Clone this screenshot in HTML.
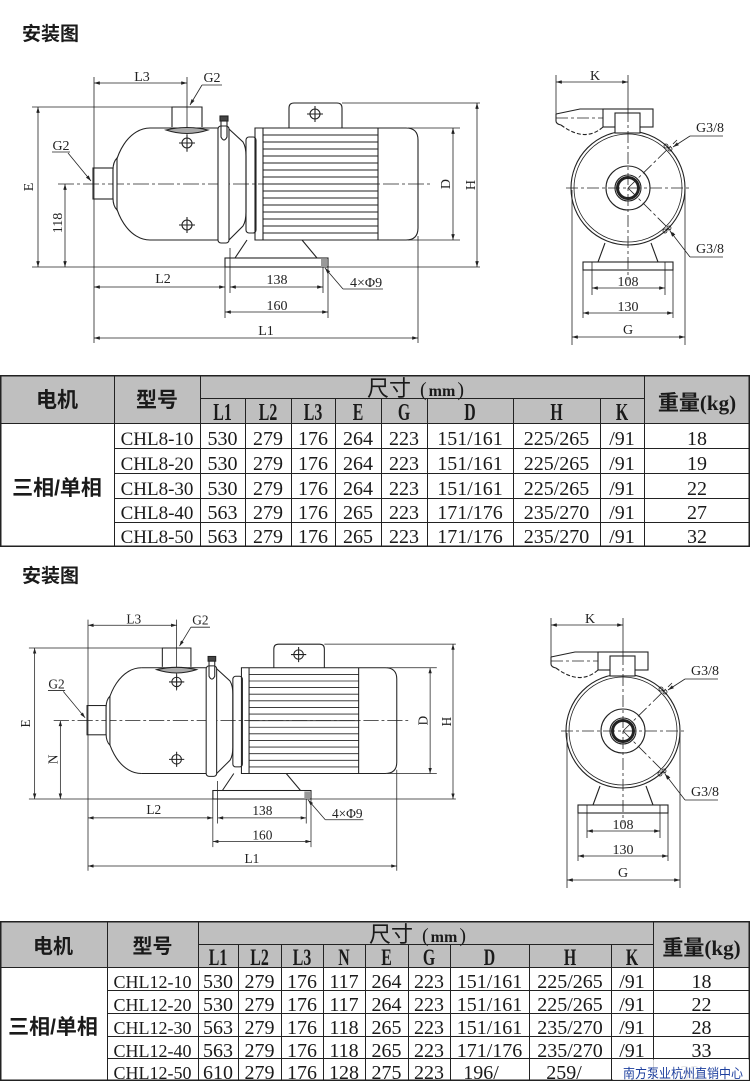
<!DOCTYPE html>
<html><head><meta charset="utf-8">
<style>
html,body{margin:0;padding:0;background:#fff;}
svg{display:block}
.d{font-family:"Liberation Serif",serif;font-size:14px;fill:#222;stroke:none}
.m{text-anchor:middle}
.t{font-family:"Liberation Serif",serif;font-size:20px;fill:#1a1a1a;text-anchor:middle}
.mo{font-family:"Liberation Serif",serif;font-size:19px;fill:#1a1a1a;text-anchor:middle}
.h{font-family:"Liberation Serif",serif;font-size:22px;font-weight:bold;fill:#1a1a1a;text-anchor:middle}
.c{font-family:"Liberation Sans","Noto Sans CJK SC",sans-serif;font-weight:bold;font-size:21px;fill:#1a1a1a;text-anchor:middle}
.r{font-family:"Liberation Sans","Noto Sans CJK SC",sans-serif;font-size:22px;fill:#1a1a1a}
.ti{font-family:"Liberation Sans","Noto Sans CJK SC",sans-serif;font-weight:bold;font-size:19px;fill:#1a1a1a}
</style></head><body>
<svg width="750" height="1082" viewBox="0 0 750 1082" xmlns="http://www.w3.org/2000/svg">
<defs>
<marker id="a" viewBox="0 0 10 6" refX="10" refY="3" markerWidth="8" markerHeight="3.5" orient="auto-start-reverse" markerUnits="userSpaceOnUse"><path d="M0,0 L10,3 L0,6 Z" fill="#222"/></marker>
</defs>
<rect width="750" height="1082" fill="#fff"/>

<!-- ===== Title 1 ===== -->
<text class="ti" x="22" y="40">安装图</text>

<!-- ===== Left view 1 ===== -->
<g>
 <g fill="none" stroke="#222" stroke-width="0.8">
  <path d="M94,77V343 M187,77V152 M32,107H172 M32,267H480 M342,103H480 M408,128H460 M408,240H460 M418,236V343 M225,258V318 M328,258V318 M230,248V293 M323,267V293 M52,152H70 M202,85H222 M383,289H343"/>
  <g marker-start="url(#a)" marker-end="url(#a)">
   <line x1="94" y1="83" x2="187" y2="83"/>
   <line x1="38" y1="107" x2="38" y2="267"/>
   <line x1="65" y1="184" x2="65" y2="267"/>
   <line x1="477" y1="103" x2="477" y2="267"/>
   <line x1="453" y1="128" x2="453" y2="240"/>
   <line x1="94" y1="287" x2="225" y2="287"/>
   <line x1="230" y1="287" x2="323" y2="287"/>
   <line x1="225" y1="312" x2="328" y2="312"/>
   <line x1="94" y1="338" x2="418" y2="338"/>
  </g>
  <g marker-end="url(#a)">
   <line x1="202" y1="85" x2="190" y2="105"/>
   <line x1="68" y1="153" x2="91" y2="181"/>
   <line x1="343" y1="289" x2="325" y2="268"/>
  </g>
  <path stroke-dasharray="16 3 3 3" d="M58,184H430"/>
 </g>
 <g fill="none" stroke="#222" stroke-width="1.1">
  <rect x="93" y="168" width="20" height="31"/>
  <path d="M150,128 A37,56 0 0 0 150,240"/>
  <path d="M117,158 Q113,162 113,170 V198 Q113,206 117,210 Z" fill="#fff"/>
  <path d="M150,128 H218 M150,240 H218"/>
  <path d="M172,127 V107 H202 V127"/>
  <path d="M166,130 Q187,137 208,130 Q187,125 166,130 Z" fill="#aaa"/>
  <circle cx="187" cy="143" r="5"/><path d="M179,143H195M187,135V151"/>
  <circle cx="187" cy="225" r="5"/><path d="M179,225H195M187,217V233"/>
  <rect x="218" y="126" width="11" height="117" rx="3" fill="#fff"/>
  <path d="M221,121 V137 Q224,143 227,137 V121"/>
  <rect x="220" y="116" width="8" height="5" fill="#444"/>
  <path d="M229,129 L243,142 Q246,147 246,156 V212 Q246,221 243,226 L229,240"/>
  <rect x="246" y="137" width="10" height="96" rx="3"/>
  <path d="M255,128 H406 Q418,128 418,140 V228 Q418,240 406,240 H255 Z"/>
  <path d="M263,128V240 M378,128V240"/>
  <path stroke-width="0.9" d="M263,135H378M263,142H378M263,149H378M263,156H378M263,163H378M263,170H378M263,177H378M263,184H378M263,191H378M263,198H378M263,205H378M263,212H378M263,219H378M263,226H378M263,233H378"/>
  <path d="M289,128 V108 Q289,103 294,103 H337 Q342,103 342,108 V128"/>
  <circle cx="315" cy="114" r="5"/><path d="M307,114H323M315,106V122"/>
  <path d="M247,240 L235,258 M302,240 L317,258"/>
  <rect x="225" y="258" width="103" height="9"/>
  <rect x="321" y="259" width="6" height="8" fill="#999" stroke="none"/>
 </g>
 <text class="d m" x="142" y="81">L3</text>
 <text class="d m" x="212" y="82">G2</text>
 <text class="d m" x="61" y="150">G2</text>
 <text class="d m" transform="translate(33 187) rotate(-90)">E</text>
 <text class="d m" transform="translate(62 223) rotate(-90)">118</text>
 <text class="d m" transform="translate(450 184) rotate(-90)">D</text>
 <text class="d m" transform="translate(475 185) rotate(-90)">H</text>
 <text class="d m" x="163" y="283">L2</text>
 <text class="d m" x="277" y="284">138</text>
 <text class="d m" x="277" y="310">160</text>
 <text class="d m" x="266" y="335">L1</text>
 <text class="d" x="350" y="287">4×Φ9</text>
</g>

<!-- ===== Right view 1 ===== -->
<g>
 <g fill="none" stroke="#222" stroke-width="0.8">
  <path d="M556,75V121 M628,75V110 M572,190V345 M685,190V345 M583,270V318 M673,270V318 M592,262V295 M665,262V295 M690,136H723 M690,257H723"/>
  <g marker-start="url(#a)" marker-end="url(#a)">
   <line x1="556" y1="82" x2="628" y2="82"/>
   <line x1="592" y1="288" x2="665" y2="288"/>
   <line x1="583" y1="313" x2="673" y2="313"/>
   <line x1="572" y1="337" x2="685" y2="337"/>
  </g>
  <g marker-end="url(#a)">
   <line x1="690" y1="136" x2="673" y2="147"/>
   <line x1="690" y1="257" x2="670" y2="231"/>
  </g>
 </g>
 <g fill="none" stroke="#222" stroke-width="1.1">
  <circle cx="628" cy="188" r="57"/>
  <circle cx="628" cy="188" r="54" stroke-width="0.8"/>
  <circle cx="628" cy="188" r="22"/>
  <circle cx="628" cy="188" r="13"/>
  <circle cx="628" cy="188" r="10.5" stroke-width="3"/>
  <path d="M556,114 L580,109 H603"/>
  <path d="M556,114V121 Q556,124 561,125"/>
  <path stroke-dasharray="4 2" d="M561,125 Q585,143 603,127"/>
  <rect x="603" y="109" width="50" height="18"/>
  <rect x="615" y="113" width="25" height="20" fill="#fff"/>
  <circle cx="666" cy="146" r="2" stroke-width="0.8"/>
  <circle cx="670" cy="149" r="2" stroke-width="0.8"/>
  <circle cx="665" cy="231" r="2" stroke-width="0.8"/>
  <circle cx="669" cy="228" r="2" stroke-width="0.8"/>
  <path d="M605,243 L598,262 M651,243 L658,262"/>
  <rect x="583" y="262" width="90" height="8"/>
 </g>
 <path fill="none" stroke="#222" stroke-width="0.8" stroke-dasharray="12 3 3 3" d="M628,110V280 M566,188H692 M628,188L677,140 M628,188L675,235 M556,118H603"/>
 <text class="d m" x="595" y="80">K</text>
 <text class="d" x="696" y="132">G3/8</text>
 <text class="d" x="696" y="253">G3/8</text>
 <text class="d m" x="628" y="286">108</text>
 <text class="d m" x="628" y="311">130</text>
 <text class="d m" x="628" y="334">G</text>
</g>

<!-- ===== Table 1 ===== -->
<rect x="0" y="375" width="750" height="48" fill="#bfbfbf"/>
<g stroke="#222" fill="none">
 <rect x="0.75" y="375.75" width="748.5" height="170.5" stroke-width="1.5"/>
 <path stroke-width="1" d="M200,398.5H644 M0,423.5H750 M114,448.5H750 M114,473.5H750 M114,498.5H750 M114,522.5H750 M114.5,375V547 M200.5,375V547 M245.5,398V547 M291.5,398V547 M335.5,398V547 M381.5,398V547 M427.5,398V547 M513.5,398V547 M600.5,398V547 M644.5,375V547"/>
</g>
<text class="c" x="57" y="407">电机</text>
<text class="c" x="157" y="407">型号</text>
<text class="r" x="367" y="396">尺寸</text>
<text x="420" y="396" style="font-family:'Liberation Serif',serif;font-size:20px;fill:#1a1a1a">(<tspan dx="2" font-weight="bold" font-size="16">mm</tspan><tspan dx="2">)</tspan></text>
<text class="c" x="697" y="410">重量<tspan style="font-family:'Liberation Serif',serif">(kg)</tspan></text>
<text class="h" transform="translate(222.5 420) scale(0.72 1.1)">L1</text>
<text class="h" transform="translate(268 420) scale(0.72 1.1)">L2</text>
<text class="h" transform="translate(313 420) scale(0.72 1.1)">L3</text>
<text class="h" transform="translate(358 420) scale(0.72 1.1)">E</text>
<text class="h" transform="translate(404 420) scale(0.72 1.1)">G</text>
<text class="h" transform="translate(470 420) scale(0.72 1.1)">D</text>
<text class="h" transform="translate(556.5 420) scale(0.72 1.1)">H</text>
<text class="h" transform="translate(622 420) scale(0.72 1.1)">K</text>
<text class="c" x="57" y="495">三相/单相</text>

<text class="mo" x="157" y="445">CHL8-10</text>
<text class="t" x="222.5" y="445">530</text><text class="t" x="268" y="445">279</text><text class="t" x="313" y="445">176</text><text class="t" x="358" y="445">264</text><text class="t" x="404" y="445">223</text><text class="t" x="470" y="445">151/161</text><text class="t" x="556.5" y="445">225/265</text><text class="t" x="622" y="445">/91</text><text class="t" x="697" y="445">18</text>

<text class="mo" x="157" y="470">CHL8-20</text>
<text class="t" x="222.5" y="470">530</text><text class="t" x="268" y="470">279</text><text class="t" x="313" y="470">176</text><text class="t" x="358" y="470">264</text><text class="t" x="404" y="470">223</text><text class="t" x="470" y="470">151/161</text><text class="t" x="556.5" y="470">225/265</text><text class="t" x="622" y="470">/91</text><text class="t" x="697" y="470">19</text>

<text class="mo" x="157" y="495">CHL8-30</text>
<text class="t" x="222.5" y="495">530</text><text class="t" x="268" y="495">279</text><text class="t" x="313" y="495">176</text><text class="t" x="358" y="495">264</text><text class="t" x="404" y="495">223</text><text class="t" x="470" y="495">151/161</text><text class="t" x="556.5" y="495">225/265</text><text class="t" x="622" y="495">/91</text><text class="t" x="697" y="495">22</text>

<text class="mo" x="157" y="519">CHL8-40</text>
<text class="t" x="222.5" y="519">563</text><text class="t" x="268" y="519">279</text><text class="t" x="313" y="519">176</text><text class="t" x="358" y="519">265</text><text class="t" x="404" y="519">223</text><text class="t" x="470" y="519">171/176</text><text class="t" x="556.5" y="519">235/270</text><text class="t" x="622" y="519">/91</text><text class="t" x="697" y="519">27</text>

<text class="mo" x="157" y="543">CHL8-50</text>
<text class="t" x="222.5" y="543">563</text><text class="t" x="268" y="543">279</text><text class="t" x="313" y="543">176</text><text class="t" x="358" y="543">265</text><text class="t" x="404" y="543">223</text><text class="t" x="470" y="543">171/176</text><text class="t" x="556.5" y="543">235/270</text><text class="t" x="622" y="543">/91</text><text class="t" x="697" y="543">32</text>

<!-- ===== Title 2 ===== -->
<text class="ti" x="22" y="582">安装图</text>

<!-- ===== Left view 2 ===== -->
<g transform="matrix(0.953 0 0 0.944 -1.58 546.95)">
 <g fill="none" stroke="#222" stroke-width="0.8">
  <path d="M94,77V343 M187,77V152 M32,107H172 M32,267H480 M342,103H480 M408,128H460 M408,240H460 M418,236V343 M225,258V318 M328,258V318 M230,248V293 M323,267V293 M52,152H70 M202,85H222 M383,289H343"/>
  <g marker-start="url(#a)" marker-end="url(#a)">
   <line x1="94" y1="83" x2="187" y2="83"/>
   <line x1="38" y1="107" x2="38" y2="267"/>
   <line x1="65" y1="184" x2="65" y2="267"/>
   <line x1="477" y1="103" x2="477" y2="267"/>
   <line x1="453" y1="128" x2="453" y2="240"/>
   <line x1="94" y1="287" x2="225" y2="287"/>
   <line x1="230" y1="287" x2="323" y2="287"/>
   <line x1="225" y1="312" x2="328" y2="312"/>
   <line x1="94" y1="338" x2="418" y2="338"/>
  </g>
  <g marker-end="url(#a)">
   <line x1="202" y1="85" x2="190" y2="105"/>
   <line x1="68" y1="153" x2="91" y2="181"/>
   <line x1="343" y1="289" x2="325" y2="268"/>
  </g>
  <path stroke-dasharray="16 3 3 3" d="M58,184H430"/>
 </g>
 <g fill="none" stroke="#222" stroke-width="1.1">
  <rect x="93" y="168" width="20" height="31"/>
  <path d="M150,128 A37,56 0 0 0 150,240"/>
  <path d="M117,158 Q113,162 113,170 V198 Q113,206 117,210 Z" fill="#fff"/>
  <path d="M150,128 H218 M150,240 H218"/>
  <path d="M172,127 V107 H202 V127"/>
  <path d="M166,130 Q187,137 208,130 Q187,125 166,130 Z" fill="#aaa"/>
  <circle cx="187" cy="143" r="5"/><path d="M179,143H195M187,135V151"/>
  <circle cx="187" cy="225" r="5"/><path d="M179,225H195M187,217V233"/>
  <rect x="218" y="126" width="11" height="117" rx="3" fill="#fff"/>
  <path d="M221,121 V137 Q224,143 227,137 V121"/>
  <rect x="220" y="116" width="8" height="5" fill="#444"/>
  <path d="M229,129 L243,142 Q246,147 246,156 V212 Q246,221 243,226 L229,240"/>
  <rect x="246" y="137" width="10" height="96" rx="3"/>
  <path d="M255,128 H406 Q418,128 418,140 V228 Q418,240 406,240 H255 Z"/>
  <path d="M263,128V240 M378,128V240"/>
  <path stroke-width="0.9" d="M263,135H378M263,142H378M263,149H378M263,156H378M263,163H378M263,170H378M263,177H378M263,184H378M263,191H378M263,198H378M263,205H378M263,212H378M263,219H378M263,226H378M263,233H378"/>
  <path d="M289,128 V108 Q289,103 294,103 H337 Q342,103 342,108 V128"/>
  <circle cx="315" cy="114" r="5"/><path d="M307,114H323M315,106V122"/>
  <path d="M247,240 L235,258 M302,240 L317,258"/>
  <rect x="225" y="258" width="103" height="9"/>
  <rect x="321" y="259" width="6" height="8" fill="#999" stroke="none"/>
 </g>
 <text class="d m" x="142" y="81">L3</text>
 <text class="d m" x="212" y="82">G2</text>
 <text class="d m" x="61" y="150">G2</text>
 <text class="d m" transform="translate(33 187) rotate(-90)">E</text>
 <text class="d m" transform="translate(62 225) rotate(-90)">N</text>
 <text class="d m" transform="translate(450 184) rotate(-90)">D</text>
 <text class="d m" transform="translate(475 185) rotate(-90)">H</text>
 <text class="d m" x="163" y="283">L2</text>
 <text class="d m" x="277" y="284">138</text>
 <text class="d m" x="277" y="310">160</text>
 <text class="d m" x="266" y="335">L1</text>
 <text class="d" x="350" y="287">4×Φ9</text>
</g>

<!-- ===== Right view 2 ===== -->
<g transform="translate(-5 543)">
 <g fill="none" stroke="#222" stroke-width="0.8">
  <path d="M556,75V121 M628,75V110 M572,190V345 M685,190V345 M583,270V318 M673,270V318 M592,262V295 M665,262V295 M690,136H723 M690,257H723"/>
  <g marker-start="url(#a)" marker-end="url(#a)">
   <line x1="556" y1="82" x2="628" y2="82"/>
   <line x1="592" y1="288" x2="665" y2="288"/>
   <line x1="583" y1="313" x2="673" y2="313"/>
   <line x1="572" y1="337" x2="685" y2="337"/>
  </g>
  <g marker-end="url(#a)">
   <line x1="690" y1="136" x2="673" y2="147"/>
   <line x1="690" y1="257" x2="670" y2="231"/>
  </g>
 </g>
 <g fill="none" stroke="#222" stroke-width="1.1">
  <circle cx="628" cy="188" r="57"/>
  <circle cx="628" cy="188" r="54" stroke-width="0.8"/>
  <circle cx="628" cy="188" r="22"/>
  <circle cx="628" cy="188" r="13"/>
  <circle cx="628" cy="188" r="10.5" stroke-width="3"/>
  <path d="M556,114 L580,109 H603"/>
  <path d="M556,114V121 Q556,124 561,125"/>
  <path stroke-dasharray="4 2" d="M561,125 Q585,143 603,127"/>
  <rect x="603" y="109" width="50" height="18"/>
  <rect x="615" y="113" width="25" height="20" fill="#fff"/>
  <circle cx="666" cy="146" r="2" stroke-width="0.8"/>
  <circle cx="670" cy="149" r="2" stroke-width="0.8"/>
  <circle cx="665" cy="231" r="2" stroke-width="0.8"/>
  <circle cx="669" cy="228" r="2" stroke-width="0.8"/>
  <path d="M605,243 L598,262 M651,243 L658,262"/>
  <rect x="583" y="262" width="90" height="8"/>
 </g>
 <path fill="none" stroke="#222" stroke-width="0.8" stroke-dasharray="12 3 3 3" d="M628,110V280 M566,188H692 M628,188L677,140 M628,188L675,235 M556,118H603"/>
 <text class="d m" x="595" y="80">K</text>
 <text class="d" x="696" y="132">G3/8</text>
 <text class="d" x="696" y="253">G3/8</text>
 <text class="d m" x="628" y="286">108</text>
 <text class="d m" x="628" y="311">130</text>
 <text class="d m" x="628" y="334">G</text>
</g>

<!-- ===== Table 2 ===== -->
<rect x="0" y="921" width="750" height="46" fill="#bfbfbf"/>
<g stroke="#222" fill="none">
 <rect x="0.75" y="921.75" width="748.5" height="158.5" stroke-width="1.5"/>
 <path stroke-width="1" d="M198,944.5H653 M0,967.5H750 M107,990.5H750 M107,1013.5H750 M107,1036.5H750 M107,1058.5H750 M107.5,921V1081 M198.5,921V1081 M238.5,944V1081 M281.5,944V1081 M323.5,944V1081 M365.5,944V1081 M408.5,944V1081 M450.5,944V1081 M529.5,944V1081 M611.5,944V1081 M653.5,921V1081"/>
</g>
<text class="c" x="53" y="953" style="font-size:20px">电机</text>
<text class="c" x="152.5" y="953" style="font-size:20px">型号</text>
<text class="r" x="369" y="942">尺寸</text>
<text x="422" y="942" style="font-family:'Liberation Serif',serif;font-size:20px;fill:#1a1a1a">(<tspan dx="2" font-weight="bold" font-size="16">mm</tspan><tspan dx="2">)</tspan></text>
<text class="c" x="701.5" y="955">重量<tspan style="font-family:'Liberation Serif',serif">(kg)</tspan></text>
<text class="h" transform="translate(218 965) scale(0.72 1.05)">L1</text>
<text class="h" transform="translate(259.5 965) scale(0.72 1.05)">L2</text>
<text class="h" transform="translate(302 965) scale(0.72 1.05)">L3</text>
<text class="h" transform="translate(344 965) scale(0.72 1.05)">N</text>
<text class="h" transform="translate(386.5 965) scale(0.72 1.05)">E</text>
<text class="h" transform="translate(429 965) scale(0.72 1.05)">G</text>
<text class="h" transform="translate(489.5 965) scale(0.72 1.05)">D</text>
<text class="h" transform="translate(570 965) scale(0.72 1.05)">H</text>
<text class="h" transform="translate(632 965) scale(0.72 1.05)">K</text>
<text class="c" x="53" y="1034">三相/单相</text>

<text class="mo" x="152.5" y="988" style="font-size:18px">CHL12-10</text>
<text class="t" x="218" y="988">530</text><text class="t" x="259.5" y="988">279</text><text class="t" x="302" y="988">176</text><text class="t" x="344" y="988">117</text><text class="t" x="386.5" y="988">264</text><text class="t" x="429" y="988">223</text><text class="t" x="489.5" y="988">151/161</text><text class="t" x="570" y="988">225/265</text><text class="t" x="632" y="988">/91</text><text class="t" x="701.5" y="988">18</text>

<text class="mo" x="152.5" y="1011" style="font-size:18px">CHL12-20</text>
<text class="t" x="218" y="1011">530</text><text class="t" x="259.5" y="1011">279</text><text class="t" x="302" y="1011">176</text><text class="t" x="344" y="1011">117</text><text class="t" x="386.5" y="1011">264</text><text class="t" x="429" y="1011">223</text><text class="t" x="489.5" y="1011">151/161</text><text class="t" x="570" y="1011">225/265</text><text class="t" x="632" y="1011">/91</text><text class="t" x="701.5" y="1011">22</text>

<text class="mo" x="152.5" y="1034" style="font-size:18px">CHL12-30</text>
<text class="t" x="218" y="1034">563</text><text class="t" x="259.5" y="1034">279</text><text class="t" x="302" y="1034">176</text><text class="t" x="344" y="1034">118</text><text class="t" x="386.5" y="1034">265</text><text class="t" x="429" y="1034">223</text><text class="t" x="489.5" y="1034">151/161</text><text class="t" x="570" y="1034">235/270</text><text class="t" x="632" y="1034">/91</text><text class="t" x="701.5" y="1034">28</text>

<text class="mo" x="152.5" y="1057" style="font-size:18px">CHL12-40</text>
<text class="t" x="218" y="1057">563</text><text class="t" x="259.5" y="1057">279</text><text class="t" x="302" y="1057">176</text><text class="t" x="344" y="1057">118</text><text class="t" x="386.5" y="1057">265</text><text class="t" x="429" y="1057">223</text><text class="t" x="489.5" y="1057">171/176</text><text class="t" x="570" y="1057">235/270</text><text class="t" x="632" y="1057">/91</text><text class="t" x="701.5" y="1057">33</text>

<text class="mo" x="152.5" y="1079" style="font-size:18px">CHL12-50</text>
<text class="t" x="218" y="1079">610</text><text class="t" x="259.5" y="1079">279</text><text class="t" x="302" y="1079">176</text><text class="t" x="344" y="1079">128</text><text class="t" x="386.5" y="1079">275</text><text class="t" x="429" y="1079">223</text><text class="t" x="481" y="1079">196/</text><text class="t" x="564" y="1079">259/</text><text class="t" x="690" y="1079" style="fill:#777">32</text>

<!-- watermark -->
<rect x="613" y="1059.5" width="136" height="20.5" fill="#fff" opacity="0.8"/>
<text x="623" y="1078" textLength="120" lengthAdjust="spacingAndGlyphs" style="font-family:'Liberation Sans','Noto Sans CJK SC',sans-serif;font-size:13px;fill:#1d3f9e">南方泵业杭州直销中心</text>
</svg>
</body></html>
